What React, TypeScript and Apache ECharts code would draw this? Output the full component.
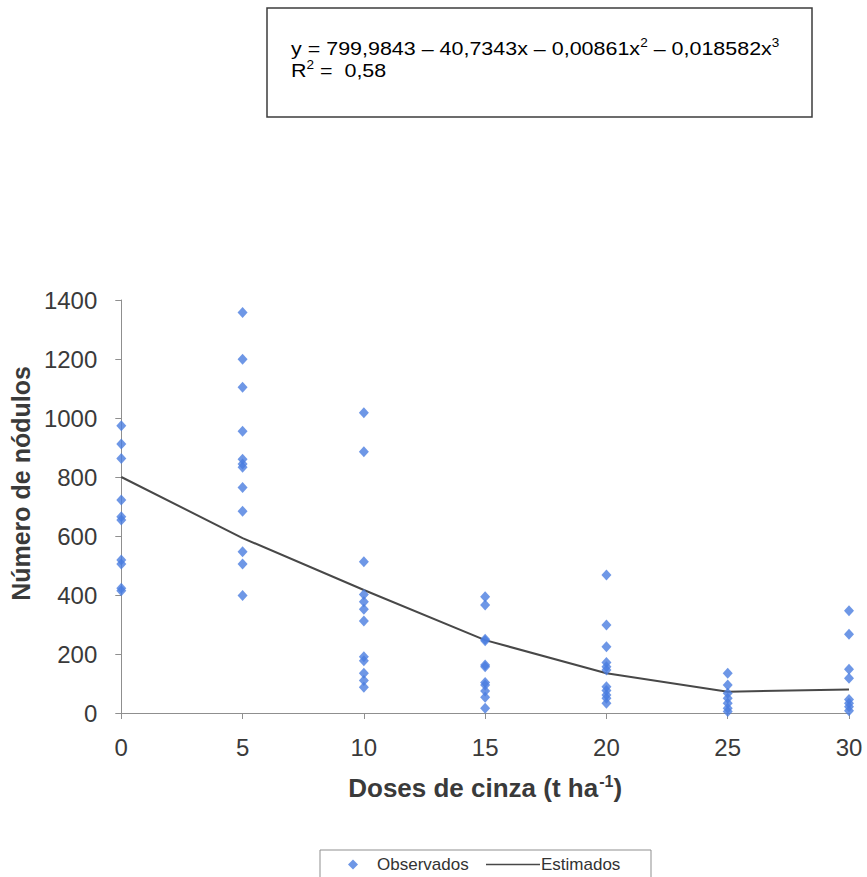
import React, { useEffect, useRef } from "react";
import * as echarts from "echarts";

const doses: number[] = [0, 5, 10, 15, 20, 25, 30];

const obsDose0: number[] = [974, 912, 863, 722, 665, 654, 519, 505, 423, 414];
const obsDose5: number[] = [1358, 1199, 1104, 955, 860, 844, 833, 764, 684, 547, 505, 398];
const obsDose10: number[] = [1018, 886, 513, 402, 377, 352, 312, 191, 177, 135, 110, 87];
const obsDose15: number[] = [394, 366, 250, 245, 163, 157, 103, 95, 75, 53, 16];
const obsDose20: number[] = [468, 298, 225, 171, 157, 146, 89, 76, 61, 50, 33];
const obsDose25: number[] = [135, 95, 67, 50, 33, 16, 5];
const obsDose30: number[] = [347, 267, 148, 118, 46, 33, 21, 8];

const estimated: number[] = [800, 593, 417, 247, 135, 72, 80];

const yTicks: number[] = [0, 200, 400, 600, 800, 1000, 1200, 1400];
const xTicks: number[] = [0, 5, 10, 15, 20, 25, 30];

const FONT = "'Liberation Sans', Arial, Helvetica, sans-serif";

export default function App() {
  const ref = useRef<HTMLDivElement>(null);

  useEffect(() => {
    if (!ref.current) return;
    const chart = echarts.init(ref.current, null, { renderer: "svg" });

    const groups = [obsDose0, obsDose5, obsDose10, obsDose15, obsDose20, obsDose25, obsDose30];
    const observed: number[][] = [];
    groups.forEach((g, i) => g.forEach((v) => observed.push([doses[i], v])));
    const est = doses.map((d, i) => [d, estimated[i]]);

    const eqRich = {
      a: { fontFamily: FONT, fontSize: 19, color: "#333333", lineHeight: 22 },
      s: { fontFamily: FONT, fontSize: 12, color: "#333333", verticalAlign: "top", lineHeight: 22 },
    };

    chart.setOption({
      animation: false,
      backgroundColor: "#ffffff",
      textStyle: { fontFamily: FONT },
      grid: { left: 120, right: 18, top: 300, bottom: 164, containLabel: false },
      xAxis: {
        type: "value",
        min: xTicks[0],
        max: xTicks[xTicks.length - 1],
        interval: 5,
        name: "{a|Doses de cinza (t ha}{s|-1}{a|)}",
        nameLocation: "middle",
        nameGap: 60,
        nameTextStyle: {
          rich: {
            a: { fontFamily: FONT, fontSize: 26, fontWeight: "bold", color: "#3a3a3a", lineHeight: 30 },
            s: { fontFamily: FONT, fontSize: 16, fontWeight: "bold", color: "#3a3a3a", verticalAlign: "top", lineHeight: 30, padding: [0, 0, 0, 1] },
          },
        },
        axisLine: { show: true, lineStyle: { color: "#8f8f8f", width: 1 } },
        axisTick: { show: true, length: 6, lineStyle: { color: "#8f8f8f" } },
        axisLabel: { fontSize: 24, color: "#3a3a3a", margin: 22, fontFamily: FONT },
        splitLine: { show: false },
      },
      yAxis: {
        type: "value",
        min: yTicks[0],
        max: yTicks[yTicks.length - 1],
        interval: 200,
        name: "Número de nódulos",
        nameLocation: "middle",
        nameGap: 84,
        nameTextStyle: {
          fontFamily: FONT,
          fontSize: 25,
          fontWeight: "bold",
          color: "#3a3a3a",
          padding: [0, 0, 0, 46],
        },
        axisLine: { show: true, lineStyle: { color: "#8f8f8f", width: 1 } },
        axisTick: { show: true, length: 6, lineStyle: { color: "#8f8f8f" } },
        axisLabel: {
          fontSize: 24,
          color: "#3a3a3a",
          margin: 24,
          fontFamily: FONT,
          formatter: (v: number) => String(v),
        },
        splitLine: { show: false },
      },
      legend: [
        {
          data: [{ name: "Observados", icon: "diamond" }],
          left: 348,
          top: 856,
          padding: 0,
          itemWidth: 10,
          itemHeight: 10,
          textStyle: { fontFamily: FONT, fontSize: 17, color: "#333333", padding: [0, 0, 0, 14] },
        },
        {
          data: [{ name: "Estimados", icon: "rect" }],
          left: 486,
          top: 856,
          padding: 0,
          itemWidth: 54,
          itemHeight: 1.5,
          textStyle: { fontFamily: FONT, fontSize: 17, color: "#333333", padding: [0, 0, 0, -4] },
        },
      ],
      graphic: [
        {
          type: "rect",
          shape: { x: 267, y: 8, width: 545, height: 109 },
          style: { fill: "#ffffff", stroke: "#3c3c3c", lineWidth: 1.5 },
          z: 10,
        },
        {
          type: "text",
          x: 291,
          y: 37,
          scaleX: 1.13,
          z: 11,
          style: {
            text: "{a|y = 799,9843 – 40,7343x – 0,00861x}{s|2}{a| – 0,018582x}{s|3}",
            rich: eqRich,
          },
        },
        {
          type: "text",
          x: 291,
          y: 59,
          scaleX: 1.13,
          z: 11,
          style: {
            text: "{a|R}{s|2}{a| =  0,58}",
            rich: eqRich,
          },
        },
        {
          type: "rect",
          shape: { x: 320, y: 850, width: 331, height: 40 },
          style: { fill: "none", stroke: "#8f8f8f", lineWidth: 1 },
          z: 1,
        },
      ],
      series: [
        {
          name: "Observados",
          type: "scatter",
          symbol: "diamond",
          symbolSize: [10, 11],
          itemStyle: { color: "#4a7de0" },
          data: observed,
          z: 3,
        },
        {
          name: "Estimados",
          type: "line",
          symbol: "none",
          showSymbol: false,
          lineStyle: { color: "#484848", width: 2 },
          itemStyle: { color: "#484848" },
          data: est,
          z: 2,
        },
      ],
    });

    return () => chart.dispose();
  }, []);

  return (
    <div
      ref={ref}
      style={{ position: "fixed", left: 0, top: 0, width: 867, height: 877, background: "#fff" }}
    />
  );
}
